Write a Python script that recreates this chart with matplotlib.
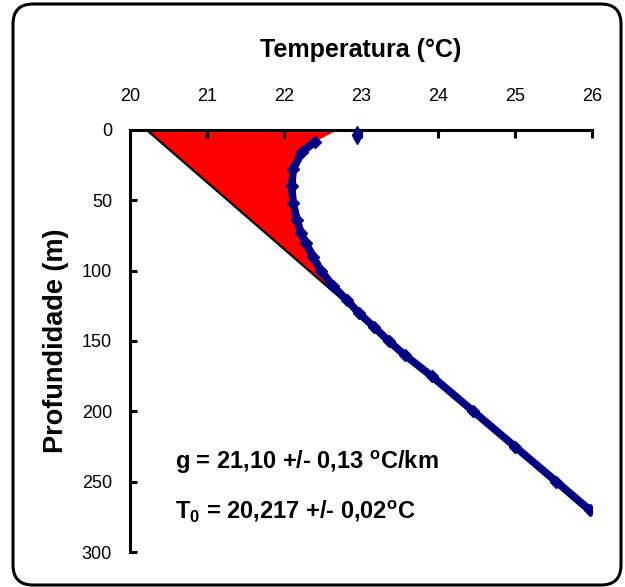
import matplotlib
matplotlib.use("Agg")
import matplotlib.pyplot as plt
from matplotlib.patches import FancyBboxPatch, Polygon
from matplotlib.transforms import IdentityTransform

plt.rcParams['font.family'] = ['Liberation Sans', 'DejaVu Sans']
plt.rcParams['mathtext.fontset'] = 'custom'
plt.rcParams['mathtext.rm'] = 'Liberation Sans:bold'
plt.rcParams['mathtext.it'] = 'Liberation Sans:bold'
plt.rcParams['mathtext.bf'] = 'Liberation Sans:bold'

# measured temperature profile (depth m, temperature C)
prof_depth = [8.5, 16, 28, 40, 52, 64, 73, 80, 90, 100, 111, 121, 130,
              140, 150, 160, 175, 200, 225, 250, 270]
prof_temp = [22.40, 22.23, 22.12, 22.10, 22.12, 22.17, 22.22, 22.28, 22.38,
             22.48, 22.64, 22.82, 22.97, 23.17, 23.36, 23.57, 23.92, 24.46,
             25.00, 25.54, 25.97]

# isolated surface reading
surf_depth = [3.5]
surf_temp = [22.95]

# linear fit (g = 21.10 C/km, T0 = 20.217 C)
fit_depth = [0, 270]
fit_temp = [20.217, 25.91]

# shaded anomaly: top corner of the red area and where it closes on the fit
shade_top_temp = 22.70
shade_end = 12  # index in prof arrays where profile meets the fit line

xticks = [20, 21, 22, 23, 24, 25, 26]
yticks = [0, 50, 100, 150, 200, 250, 300]

navy = '#000080'

fig = plt.figure(figsize=(6.25, 5.87), dpi=100)
ax = fig.add_axes([0.208, 0.0596, 0.739, 0.719])

# red area between fit line and profile
poly = [(fit_temp[0], 0), (prof_temp[shade_end], prof_depth[shade_end])]
poly += [(t, d) for t, d in zip(prof_temp[shade_end::-1], prof_depth[shade_end::-1])]
poly += [(shade_top_temp, 0)]
ax.add_patch(Polygon(poly, closed=True, facecolor='#ff0000', edgecolor='none', zorder=1))

ax.plot(fit_temp, fit_depth, color='black', lw=1.6, zorder=2)
ax.plot(prof_temp, prof_depth, color=navy, lw=5.5, marker='D', ms=6,
        solid_capstyle='round', zorder=3)
ax.plot(surf_temp, surf_depth, color=navy, ls='none', marker='d', ms=9,
        clip_on=False, zorder=3)

ax.set_xlim(20, 26)
ax.set_ylim(300, 0)
ax.set_xticks(xticks)
ax.set_yticks(yticks)

narrow = ['Liberation Sans Narrow', 'Liberation Sans', 'DejaVu Sans']
ax.set_xticklabels([str(v) for v in xticks], family=narrow, fontsize=13)
ax.set_yticklabels([str(v) for v in yticks], family=narrow, fontsize=13)

ax.xaxis.tick_top()
ax.xaxis.set_label_position('top')
ax.tick_params(axis='x', direction='in', length=6, width=2.2, pad=18)
ax.tick_params(axis='y', direction='in', length=5, width=2.2, pad=13)
for side in ['right', 'bottom']:
    ax.spines[side].set_visible(False)
for side in ['top', 'left']:
    ax.spines[side].set_linewidth(2.2)

ax.set_xlabel('Temperatura (°C)', fontsize=18, fontweight='bold', labelpad=22)
ax.set_ylabel('Profundidade (m)', fontsize=19.5, fontweight='bold', labelpad=9)

ax.text(20.58, 236, r'g = 21,10 +/- 0,13 $^{\mathrm{o}}$C/km', fontsize=17,
        fontweight='bold', va='center', ha='left')
ax.text(20.58, 271, r'T$_{\mathrm{0}}$ = 20,217 +/- 0,02$^{\mathrm{o}}$C', fontsize=17,
        fontweight='bold', va='center', ha='left')

# rounded frame around the whole picture
frame = FancyBboxPatch((13, 2), 608, 581, boxstyle='round,pad=0,rounding_size=20',
                       transform=IdentityTransform(), facecolor='none',
                       edgecolor='black', lw=2.2)
fig.add_artist(frame)

fig.savefig('out.png', dpi=100)
